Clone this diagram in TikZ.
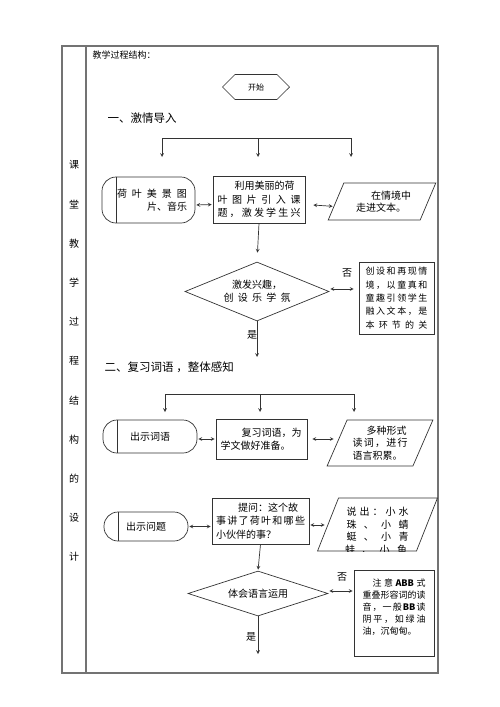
\documentclass[tikz,border=0pt]{standalone}
\usepackage{fontspec}
\setmainfont{Noto Sans CJK SC}
\usetikzlibrary{shapes.geometric,shapes.symbols,positioning}

\definecolor{framegray}{gray}{0.45}
\definecolor{flowgray}{gray}{0.2}

\newcommand{\spr}[2]{\makebox[#1][s]{\spaceskip=0pt plus 1fil\relax #2}}

\begin{document}
\begin{tikzpicture}[x=1pt,y=-1pt,>=stealth,line width=0.7pt,color=flowgray,text=black,
    term node/.style={draw,rectangle,rounded corners=14pt,inner sep=1pt,font=\fontsize{10}{13}\selectfont},
    proc node/.style={draw,rectangle,align=left,inner sep=3pt,font=\fontsize{10}{13.5}\selectfont},
    io node/.style={draw,trapezium,trapezium stretches=true,trapezium left angle=64,trapezium right angle=116,align=left,inner sep=0pt,font=\fontsize{10}{12.5}\selectfont},
    dec node/.style={draw,diamond,inner sep=0pt,align=center,font=\fontsize{10}{13}\selectfont},
    note node/.style={draw,rectangle,align=left,inner sep=2pt,font=\fontsize{9}{13.4}\selectfont},
    start node/.style={draw,signal,signal to=west and east,signal pointer angle=90,inner sep=1pt,font=\fontsize{8}{10}\selectfont},
    head node/.style={anchor=west,font=\fontsize{11.5}{14}\selectfont},
    side node/.style={font=\fontsize{10}{12}\selectfont},
    yn node/.style={font=\fontsize{10}{12}\selectfont},
    flow/.style={->,shorten >=1pt},
    both/.style={<->,shorten >=1pt,shorten <=1pt}]

    \useasboundingbox (0,0) rectangle (500,707);

    % frame of the table
    \draw[framegray,line width=1.2pt] (62,46) rectangle (438,673);
    \draw[framegray,line width=1.2pt] (86,46) -- (86,673);

    \foreach \ch [count=\i from 0] in {课,堂,教,学,过,程,结,构,的,设,计}{
        \node[side node] (s\i) at (74,165+39.2*\i) {\ch};
    }

    \node[anchor=west,font=\fontsize{9}{11}\selectfont] (title) at (89,55) {教学过程结构：};

    \node[start node,minimum width=67pt,minimum height=25pt] (start) at (256,87) {开始};

    % part one
    \node[head node] (h1) at (104,118) {一、激情导入};

    \foreach \x/\n in {162/l,258/m,351/r}{
        \coordinate (b1\n) at (\x,138);
        \coordinate (e1\n) at (\x,158);
        \draw[flow] (b1\n) -- (e1\n);
    }
    \draw (b1l) -- (b1r);

    \node[term node,minimum width=93pt,minimum height=46pt,align=right] (t1) at (148.5,200)
        {\hspace*{7pt}\spr{70pt}{荷 叶 美 景 图}\\片、音乐};
    \draw ([xshift=15pt]t1.north west) -- ([xshift=15pt]t1.south west);

    \node[proc node,minimum width=92pt,minimum height=47pt,text width=83pt] (p1) at (259,199.5)
        {\hspace*{17pt}利用美丽的荷\\\spr{83pt}{叶 图 片 引 入 课}\\\spr{83pt}{题 ， 激 发 学 生 兴}};

    \node[io node,minimum width=108pt,minimum height=37pt,text width=52pt] (io1) at (382,201.5)
        {\hspace*{15pt}在情境中\\走进文本。};

    \draw[both] ([yshift=-5pt]t1.east) -- ([yshift=-5pt]p1.west);
    \draw[both,shorten <=8pt,shorten >=3pt] ([yshift=-5pt]p1.east) -- ([yshift=-5pt]io1.west);

    \node[dec node,aspect=2.44,minimum width=144pt,minimum height=59pt] (d1) at (257,291.5)
        {激发兴趣，\\\spr{67pt}{创 设 乐 学 氛}};
    \draw[flow,shorten >=9pt] (p1.south) -- (d1.north);

    \node[note node,minimum width=75pt,minimum height=72pt,text width=62pt] (n1) at (396.5,298)
        {\spr{62pt}{创 设 和 再 现 情}\\\spr{62pt}{境 ， 以 童 真 和}\\\spr{62pt}{童 趣 引 领 学 生}\\\spr{62pt}{融 入 文 本 ， 是}\\\spr{62pt}{本 环 节 的 关}};
    \draw[both,shorten >=5pt] ([yshift=2.5pt]d1.east) -- ([yshift=2.5pt]d1.east -| n1.west);

    \node[yn node] (no1) at (347,273) {否};
    \node[yn node] (yes1) at (252,335) {是};
    \coordinate (d1out) at (257,358);
    \draw[flow] (d1.south) -- (d1out);

    % part two
    \node[head node] (h2) at (101,367) {二、复习词语 ，整体感知};

    \foreach \x/\n in {165/l,260/m,354/r}{
        \coordinate (b2\n) at (\x,394);
        \coordinate (e2\n) at (\x,413);
        \draw[flow] (b2\n) -- (e2\n);
    }
    \draw (b2l) -- (b2r);

    \node[term node,minimum width=94pt,minimum height=33pt] (t2) at (150,436.5) {出示词语};
    \draw ([xshift=15pt]t2.north west) -- ([xshift=15pt]t2.south west);

    \node[proc node,minimum width=91pt,minimum height=40pt,text width=82pt] (p2) at (261.5,439)
        {\hspace*{21pt}复习词语，为\\学文做好准备。};

    \node[io node,minimum width=106pt,minimum height=46pt,text width=55pt] (io2) at (380,443)
        {\hspace*{14pt}多种形式\\\spr{55pt}{读 词 ， 进 行}\\语言积累。};

    \draw[both] (p2.west -| t2.east) -- (p2.west);
    \draw[both,shorten <=5pt,shorten >=3pt] (p2.east) -- (p2.east -| io2.west);

    \node[term node,minimum width=84pt,minimum height=29pt] (t3) at (146,526.5) {出示问题};
    \draw ([xshift=15pt]t3.north west) -- ([xshift=15pt]t3.south west);

    \node[proc node,minimum width=97pt,minimum height=46pt,text width=89pt] (p3) at (260.5,521)
        {\hspace*{22pt}提问：这个故\\\spr{89pt}{事 讲 了 荷 叶 和 哪 些}\\小伙伴的事？};

    \node[io node,minimum width=121pt,minimum height=53pt,text width=62pt] (io3) at (377.5,524.5)
        {\spr{62pt}{说 出 ： 小 水}\\\spr{62pt}{珠 、 小 蜻}\\\spr{62pt}{蜓 、 小 青}};
    \begin{scope}
        \clip ([xshift=-61pt]io3.south) rectangle ([xshift=61pt]io3.north);
        \node[font=\fontsize{10}{12.5}\selectfont] (io3cut) at (376,550) {\spr{62pt}{蛙 、 小 鱼}};
    \end{scope}

    \draw[both] (t3.east) -- (t3.east -| p3.west);
    \draw[both,shorten >=3pt] ([yshift=-4pt]p3.east) -- ([yshift=-4pt]p3.east -| io3.west);

    \node[dec node,aspect=3.1,minimum width=140pt,minimum height=45pt] (d2) at (258,593.5) {体会语言运用};
    \draw[flow] (p3.south) -- (d2.north);

    \node[note node,minimum width=80pt,minimum height=86pt,text width=63pt,font=\fontsize{9}{12}\selectfont] (n2) at (394,613)
        {\hspace*{10pt}\spr{53pt}{注 意 \textbf{ABB} 式}\\重叠形容词的读\\\spr{63pt}{音 ， 一 般 \textbf{BB} 读}\\\spr{63pt}{阴 平 ， 如 绿 油}\\油，沉甸甸。\\\mbox{}};
    \draw[both] ([yshift=2.5pt]d2.east) -- ([yshift=2.5pt]d2.east -| n2.west);

    \node[yn node] (no2) at (342,577) {否};
    \node[yn node] (yes2) at (251,637) {是};
    \coordinate (d2out) at (258,655);
    \draw[flow] (d2.south) -- (d2out);

\end{tikzpicture}
\end{document}
